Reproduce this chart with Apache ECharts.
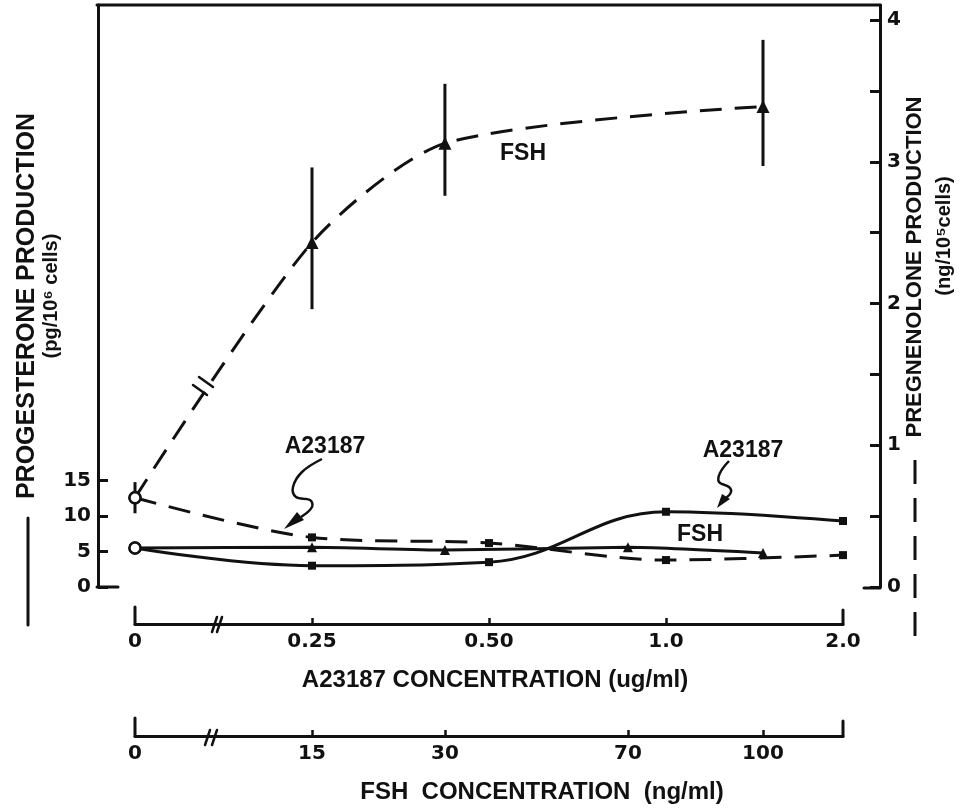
<!DOCTYPE html>
<html><head><meta charset="utf-8">
<script src="https://cdn.jsdelivr.net/npm/echarts@6/dist/echarts.min.js"></script>
<style>html,body{margin:0;padding:0;background:#fff}#c{width:973px;height:811px}</style>
</head><body><div id="c"></div>
<script>
// ---- data ----
const a23187Labels = ['0', '0.25', '0.50', '1.0', '2.0'];
const fshTickValues = [0, 15, 30, 70, 100];
const fshTickLabels = ['0', '15', '30', '70', '100'];
// broken, hand-drawn FSH axis: where each FSH tick sits on the shared 0..4 position scale
const fshTickPos = [0, 1, 1.751, 2.785, 3.548];
const progTicks = [0, 5, 10, 15];
const pregTicks = [0, 1, 2, 3, 4];
const pregMinorTicks = [0, 0.5, 1, 1.5, 2, 2.5, 3, 3.5, 4];

const progA23187 = [5.5, 3.0, 3.5, 10.6, 9.3];          // pg/10^6 cells, solid
const pregA23187 = [0.63, 0.35, 0.31, 0.19, 0.225];     // ng/10^5 cells, dashed
const progFSHConc = [0, 15, 30, 70, 100];
const progFSH = [5.5, 5.6, 5.2, 5.6, 4.8];              // solid
const pregFSHConc = [0, 15, 30, 100];
const pregFSH = [0.63, 2.43, 3.13, 3.39];               // dashed
const pregFSHErrLow = [0.11, 0.47, 0.37, 0.42];
const pregFSHErrHigh = [0.11, 0.53, 0.42, 0.47];

function fshToPos(c) {
  for (let i = 0; i < fshTickValues.length - 1; i++) {
    const a = fshTickValues[i], b = fshTickValues[i + 1];
    if (c >= a && c <= b) return fshTickPos[i] + (c - a) / (b - a) * (fshTickPos[i + 1] - fshTickPos[i]);
  }
  return fshTickPos[fshTickPos.length - 1];
}

const INK = '#111';
const lblFont = { fontFamily: 'DejaVu Sans', fontWeight: 'bold', fontSize: 20, color: INK };
const ttlFont = { fontFamily: 'Liberation Sans', fontWeight: 'bold', fontSize: 24, color: INK };
const openCircle = { symbol: 'circle', symbolSize: 11, itemStyle: { color: '#fff', borderColor: INK, borderWidth: 2.5 } };
const dash = [22, 13];

function withOpenFirst(arr, mk) {
  return arr.map((v, i) => i === 0 ? Object.assign({ value: mk(v, i) }, openCircle) : { value: mk(v, i) });
}

function L(x1, y1, x2, y2, w) {
  return { type: 'line', shape: { x1, y1, x2, y2 }, style: { stroke: INK, lineWidth: w || 3, lineCap: 'round' }, z: 10 };
}
function T(text, x, y, font, rot) {
  return { type: 'text', x, y, rotation: rot || 0, z: 10,
    style: { text, fill: INK, align: 'center', verticalAlign: 'middle', font: font } };
}

const chart = echarts.init(document.getElementById('c'), null, { renderer: 'canvas' });

const option = {
  animation: false,
  backgroundColor: '#fff',
  grid: { left: 135, right: 130, top: 5, bottom: 224, containLabel: false },
  xAxis: [
    { type: 'category', data: a23187Labels, boundaryGap: false, position: 'bottom', offset: 37,
      axisLine: { onZero: false, lineStyle: { color: INK, width: 3 } },
      axisTick: { inside: true, length: 6, lineStyle: { color: INK, width: 2.5 },
        customValues: [1, 2, 3] },
      axisLabel: Object.assign({ margin: 8, interval: 0 }, lblFont),
      name: 'A23187 CONCENTRATION (ug/ml)', nameLocation: 'middle', nameGap: 44,
      nameTextStyle: Object.assign({ padding: [0, 0, 0, 12] }, ttlFont),
      splitLine: { show: false } },
    { type: 'value', min: 0, max: 4, position: 'bottom', offset: 149,
      axisLine: { onZero: false, lineStyle: { color: INK, width: 3 } },
      axisTick: { inside: true, length: 6, lineStyle: { color: INK, width: 2.5 },
        customValues: fshTickPos.slice(1) },
      axisLabel: Object.assign({ margin: 8, customValues: fshTickPos,
        formatter: v => { const i = fshTickPos.findIndex(p => Math.abs(p - v) < 1e-6); return i >= 0 ? fshTickLabels[i] : ''; } }, lblFont),
      name: 'FSH  CONCENTRATION  (ng/ml)', nameLocation: 'middle', nameGap: 44,
      nameTextStyle: Object.assign({ padding: [0, 0, 0, 106] }, ttlFont),
      splitLine: { show: false } }
  ],
  yAxis: [
    { type: 'value', min: 0, max: 82, position: 'left', offset: 37,
      axisLine: { show: true, onZero: false, lineStyle: { color: INK, width: 3 } },
      axisTick: { show: true, inside: true, length: 10, lineStyle: { color: INK, width: 3 }, customValues: progTicks },
      axisLabel: Object.assign({ margin: 7, customValues: progTicks }, lblFont),
      splitLine: { show: false } },
    { type: 'value', min: 0, max: 4.106, position: 'right', offset: 37,
      axisLine: { show: true, onZero: false, lineStyle: { color: INK, width: 3 } },
      axisTick: { show: true, inside: true, length: 10, lineStyle: { color: INK, width: 3 }, customValues: pregMinorTicks },
      axisLabel: Object.assign({ margin: 7, customValues: pregTicks }, lblFont),
      splitLine: { show: false } }
  ],
  series: [
    { name: 'Pregnenolone FSH error', type: 'custom', xAxisIndex: 1, yAxisIndex: 1, z: 1,
      data: pregFSHConc.map((c, i) => [fshToPos(c), pregFSH[i] - pregFSHErrLow[i], pregFSH[i] + pregFSHErrHigh[i]]),
      encode: { x: 0, y: [1, 2] },
      renderItem: (params, api) => {
        const p1 = api.coord([api.value(0), api.value(1)]);
        const p2 = api.coord([api.value(0), api.value(2)]);
        return { type: 'line', shape: { x1: p1[0], y1: p1[1], x2: p2[0], y2: p2[1] }, style: { stroke: INK, lineWidth: 3 } };
      } },
    { name: 'Pregnenolone FSH', type: 'line', xAxisIndex: 1, yAxisIndex: 1, z: 3,
      smooth: 0.25,
      symbol: 'triangle', symbolSize: 13, itemStyle: { color: INK },
      lineStyle: { color: INK, width: 3, type: dash },
      data: withOpenFirst(pregFSH, (v, i) => [fshToPos(pregFSHConc[i]), v]) },
    { name: 'Pregnenolone A23187', type: 'line', xAxisIndex: 0, yAxisIndex: 1, z: 3,
      smooth: 0.3,
      symbol: 'rect', symbolSize: 8, itemStyle: { color: INK },
      lineStyle: { color: INK, width: 3, type: dash },
      data: withOpenFirst(pregA23187, v => v) },
    { name: 'Progesterone A23187', type: 'line', xAxisIndex: 0, yAxisIndex: 0, z: 3,
      smooth: 0.4,
      symbol: 'rect', symbolSize: 8, itemStyle: { color: INK },
      lineStyle: { color: INK, width: 3 },
      data: withOpenFirst(progA23187, v => v) },
    { name: 'Progesterone FSH', type: 'line', xAxisIndex: 1, yAxisIndex: 0, z: 3,
      smooth: 0.2,
      symbol: 'triangle', symbolSize: 10, itemStyle: { color: INK },
      lineStyle: { color: INK, width: 3 },
      data: withOpenFirst(progFSH, (v, i) => [fshToPos(progFSHConc[i]), v]) }
  ],
  graphic: [
    // frame top + zero stubs
    L(97, 5, 880, 5),
    L(97, 587, 118, 587),
    L(864, 588, 880, 588),
    // x-axis end ticks
    L(135, 624, 135, 607), L(843, 624, 843, 610),
    L(135, 736, 135, 718), L(843, 736, 843, 721),
    // axis breaks
    L(212, 632, 217, 617, 2.5), L(217, 632, 222, 617, 2.5),
    L(205, 745, 210, 730, 2.5), L(212, 745, 217, 730, 2.5),
    // break on FSH pregnenolone curve
    L(193, 385, 207, 395, 2.5), L(199, 377, 213, 387, 2.5),
    // y-axis titles with line keys
    T('PROGESTERONE PRODUCTION', 27, 306, 'bold 25px "Liberation Sans"', Math.PI / 2),
    T('(pg/10\u2076 cells)', 51, 296, 'bold 20px "Liberation Sans"', Math.PI / 2),
    L(28, 518, 28, 625),
    T('PREGNENOLONE PRODUCTION', 915, 267, 'bold 22px "Liberation Sans"', Math.PI / 2),
    T('(ng/10\u2075cells)', 944, 236, 'bold 20px "Liberation Sans"', Math.PI / 2),
    { type: 'line', shape: { x1: 915, y1: 460, x2: 915, y2: 645 }, z: 10,
      style: { stroke: INK, lineWidth: 3, lineDash: [24, 14] } },
    // annotations
    T('FSH', 523, 154, 'bold 23px "Liberation Sans"'),
    T('A23187', 325, 447, 'bold 23px "Liberation Sans"'),
    T('A23187', 743, 451, 'bold 23px "Liberation Sans"'),
    T('FSH', 700, 535, 'bold 23px "Liberation Sans"'),
    { type: 'polyline', z: 10, shape: { points: [[322, 459], [302, 472], [293, 487], [296, 497], [310, 500], [312, 507], [301, 517]], smooth: 0.4 },
      style: { stroke: INK, lineWidth: 2.5, fill: null } },
    { type: 'polygon', z: 10, shape: { points: [[284, 529], [297, 512], [304, 520]] }, style: { fill: INK } },
    { type: 'polyline', z: 10, shape: { points: [[729, 461], [720, 473], [719, 482], [729, 487], [731, 492], [726, 498]], smooth: 0.4 },
      style: { stroke: INK, lineWidth: 2.5, fill: null } },
    { type: 'polygon', z: 10, shape: { points: [[717, 508], [722, 494], [730, 499]] }, style: { fill: INK } }
  ]
};
chart.setOption(option);
</script></body></html>
